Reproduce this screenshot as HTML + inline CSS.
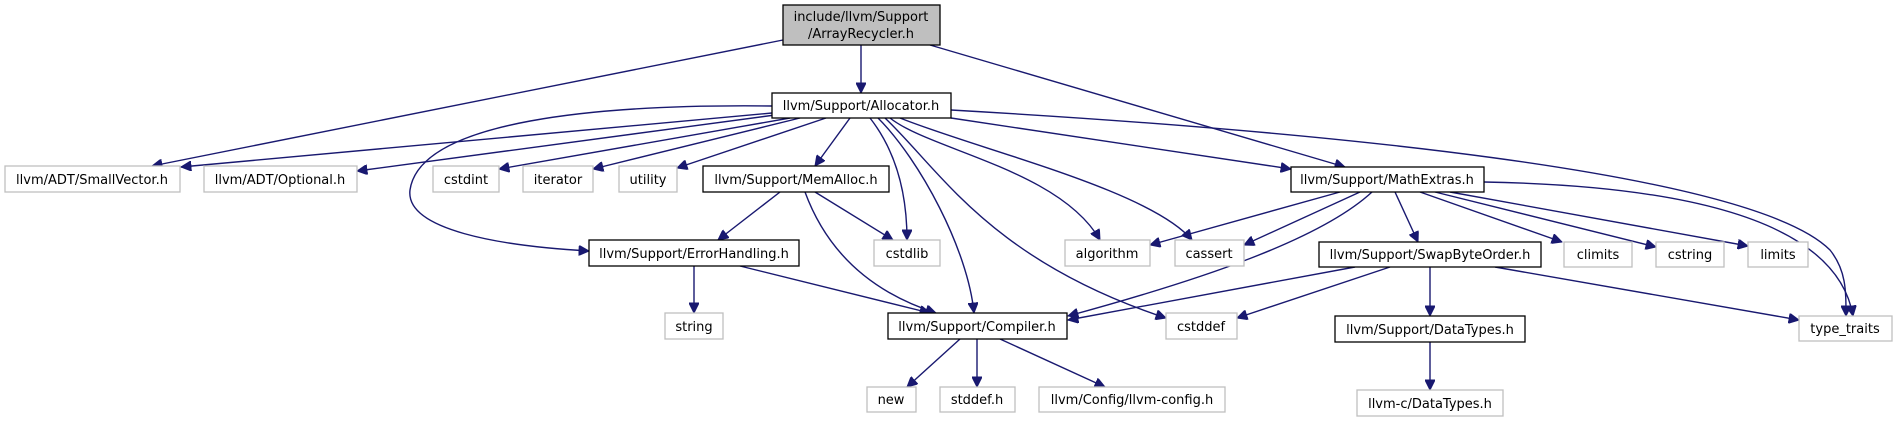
<!DOCTYPE html>
<html><head><meta charset="utf-8"><style>
html,body{margin:0;padding:0;background:#fff;}
svg text{font-family:"DejaVu Sans","Liberation Sans",sans-serif;font-size:13px;fill:#000;text-anchor:middle;}
.g{fill:#fff;stroke:#bfbfbf;stroke-width:1.3}
.b{fill:#fff;stroke:#000;stroke-width:1.3}
.e{fill:none;stroke:#191970;stroke-width:1.4;marker-end:url(#a)}
</style></head><body>
<svg width="1893" height="417" viewBox="0 0 1893 417" xmlns="http://www.w3.org/2000/svg">
<defs><marker id="a" viewBox="0 0 10 10" refX="10" refY="5" markerWidth="11" markerHeight="10" markerUnits="userSpaceOnUse" orient="auto"><path d="M0,0 L10,5 L0,10 z" fill="#191970" stroke="#191970"/></marker></defs>
<path class="e" d="M861,45 L861,93"/>
<path class="e" d="M783,40 L152,166"/>
<path class="e" d="M930,45 L1345,167"/>
<path class="e" d="M772,113 L181,167"/>
<path class="e" d="M775,115 L357,171"/>
<path class="e" d="M790,118 L499,169"/>
<path class="e" d="M800,118 L593,169"/>
<path class="e" d="M826,118 L677,168"/>
<path class="e" d="M850,118 L815,166"/>
<path class="e" d="M772,106 C600,104 420,120 410,190 C405,230 500,246 589,251"/>
<path class="e" d="M870,118 C895,150 907,190 907,240"/>
<path class="e" d="M878,118 C920,160 968,250 974,313"/>
<path class="e" d="M885,118 C940,170 990,260 1166,318"/>
<path class="e" d="M890,118 C930,150 1060,170 1100,240"/>
<path class="e" d="M900,118 C980,150 1150,190 1192,240"/>
<path class="e" d="M951,118 L1291,169"/>
<path class="e" d="M951,110 C1300,130 1750,170 1830,250 C1846,270 1846,290 1846,316"/>
<path class="e" d="M1484,182 C1650,185 1835,210 1853,316"/>
<path class="e" d="M780,192 L718,240"/>
<path class="e" d="M815,192 L893,240"/>
<path class="e" d="M805,192 C830,260 880,295 936,313"/>
<path class="e" d="M740,266 L930,313"/>
<path class="e" d="M694,266 L694,313"/>
<path class="e" d="M1340,192 L1150,245"/>
<path class="e" d="M1360,192 L1244,245"/>
<path class="e" d="M1372,192 C1320,240 1200,280 1068,316"/>
<path class="e" d="M1395,192 L1418,242"/>
<path class="e" d="M1420,192 L1562,242"/>
<path class="e" d="M1435,192 L1656,247"/>
<path class="e" d="M1450,192 L1748,246"/>
<path class="e" d="M1355,267 L1068,320"/>
<path class="e" d="M1390,267 L1237,318"/>
<path class="e" d="M1430,267 L1430,316"/>
<path class="e" d="M1495,267 L1799,320"/>
<path class="e" d="M960,339 L907,387"/>
<path class="e" d="M977,339 L977,387"/>
<path class="e" d="M1000,339 L1105,387"/>
<path class="e" d="M1430,342 L1430,390"/>
<rect x="783" y="5" width="157" height="40" fill="#bfbfbf" stroke="#000" stroke-width="1.3"/>
<text x="861" y="21">include/llvm/Support</text><text x="861" y="38">/ArrayRecycler.h</text>
<rect class="b" x="772" y="93" width="179" height="25"/><text x="861" y="110">llvm/Support/Allocator.h</text>
<rect class="g" x="5" y="166" width="175" height="26"/><text x="92" y="184">llvm/ADT/SmallVector.h</text>
<rect class="g" x="204" y="166" width="153" height="26"/><text x="280" y="184">llvm/ADT/Optional.h</text>
<rect class="g" x="433" y="166" width="66" height="26"/><text x="466" y="184">cstdint</text>
<rect class="g" x="523" y="166" width="70" height="26"/><text x="558" y="184">iterator</text>
<rect class="g" x="619" y="166" width="58" height="26"/><text x="648" y="184">utility</text>
<rect class="b" x="703" y="166" width="186" height="26"/><text x="796" y="184">llvm/Support/MemAlloc.h</text>
<rect class="b" x="1291" y="167" width="193" height="25"/><text x="1387" y="184">llvm/Support/MathExtras.h</text>
<rect class="b" x="589" y="240" width="210" height="26"/><text x="694" y="258">llvm/Support/ErrorHandling.h</text>
<rect class="g" x="874" y="240" width="66" height="26"/><text x="907" y="258">cstdlib</text>
<rect class="g" x="1065" y="240" width="85" height="26"/><text x="1107" y="258">algorithm</text>
<rect class="g" x="1175" y="240" width="69" height="26"/><text x="1209" y="258">cassert</text>
<rect class="b" x="1319" y="242" width="222" height="25"/><text x="1430" y="259">llvm/Support/SwapByteOrder.h</text>
<rect class="g" x="1564" y="242" width="68" height="25"/><text x="1598" y="259">climits</text>
<rect class="g" x="1656" y="242" width="68" height="25"/><text x="1690" y="259">cstring</text>
<rect class="g" x="1748" y="242" width="60" height="25"/><text x="1778" y="259">limits</text>
<rect class="g" x="665" y="313" width="58" height="26"/><text x="694" y="331">string</text>
<rect class="b" x="888" y="313" width="179" height="26"/><text x="977" y="331">llvm/Support/Compiler.h</text>
<rect class="g" x="1166" y="313" width="71" height="26"/><text x="1201" y="331">cstddef</text>
<rect class="b" x="1335" y="316" width="190" height="26"/><text x="1430" y="334">llvm/Support/DataTypes.h</text>
<rect class="g" x="1799" y="316" width="93" height="25"/><text x="1845" y="333">type_traits</text>
<rect class="g" x="867" y="387" width="49" height="25"/><text x="891" y="404">new</text>
<rect class="g" x="940" y="387" width="75" height="25"/><text x="977" y="404">stddef.h</text>
<rect class="g" x="1039" y="387" width="186" height="25"/><text x="1132" y="404">llvm/Config/llvm-config.h</text>
<rect class="g" x="1357" y="390" width="146" height="26"/><text x="1430" y="408">llvm-c/DataTypes.h</text>
</svg>
</body></html>
